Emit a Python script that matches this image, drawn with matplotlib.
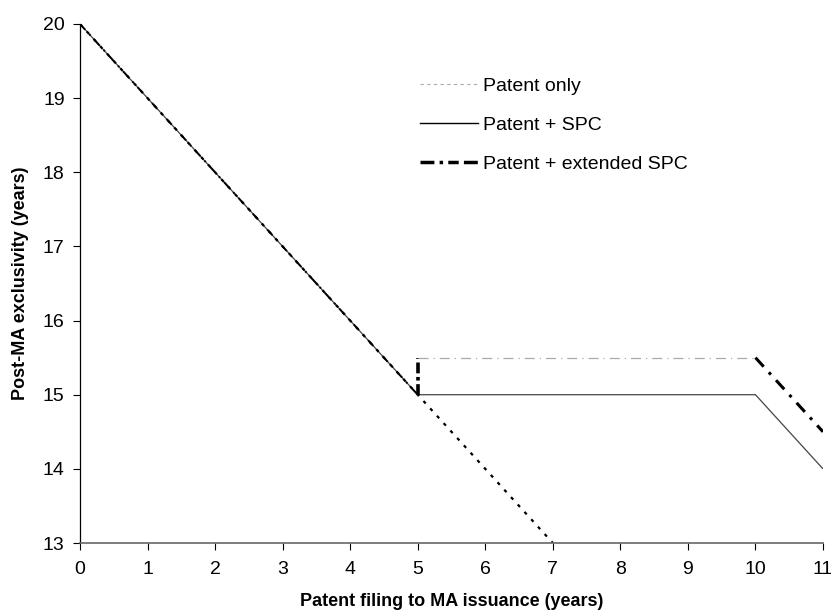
import matplotlib.pyplot as plt
from matplotlib.lines import Line2D

plt.rcParams['font.family'] = ['Liberation Sans', 'DejaVu Sans']

# series data
patent_x = [0, 5, 7]
patent_y = [20, 15, 13]

spc_x = [0, 5, 10, 11]
spc_y = [20, 15, 15, 14]

ext_x = [0, 5, 5, 10, 11]
ext_y = [20, 15, 15.5, 15.5, 14.5]

labels = ["Patent only", "Patent + SPC", "Patent + extended SPC"]

fig = plt.figure(figsize=(8.31, 6.16), dpi=100)
ax = fig.add_axes([80 / 831, 1 - 543 / 616, (823 - 80) / 831, (543 - 24) / 616])

ax.plot(spc_x, spc_y, color="#444444", lw=0.9, solid_capstyle="butt")
ax.plot(patent_x, patent_y, color="black", lw=1.6, linestyle=(0, (1.5, 3)))
# extended SPC: thick black, flat part drawn light as in the original
ax.plot(ext_x[:2], ext_y[:2], color="black", lw=1.4, linestyle=(0, (4, 3, 1, 3)))
ax.plot(ext_x[1:3], ext_y[1:3], color="black", lw=2.6, linestyle=(0, (3, 1, 1, 1)))
ax.plot(ext_x[2:4], ext_y[2:4], color="#aaaaaa", lw=0.9, linestyle=(0, (8, 4, 1, 4)))
ax.plot(ext_x[3:], ext_y[3:], color="black", lw=2.2, linestyle=(0, (4, 2.5, 1, 2.5)))

ax.set_xlim(0, 11)
ax.set_ylim(13, 20)
ax.set_xticks(range(0, 12))
ax.set_yticks(range(13, 21))
ax.spines['top'].set_visible(False)
ax.spines['right'].set_visible(False)
ax.spines['bottom'].set_color("#666666")
ax.spines['bottom'].set_linewidth(1.2)
ax.spines['left'].set_linewidth(0.9)
ax.tick_params(axis='both', direction='out', length=5, width=0.8, labelsize=14)
ax.tick_params(axis='x', pad=8)
ax.tick_params(axis='y', pad=6)

ax.set_xlabel("Patent filing to MA issuance (years)", fontsize=13, fontweight="bold", labelpad=11)
ax.set_ylabel("Post-MA exclusivity (years)", fontsize=13, fontweight="bold", labelpad=10)

handles = [
    Line2D([], [], color="#aaaaaa", lw=0.8, linestyle=(0, (3, 3))),
    Line2D([], [], color="black", lw=1.0),
    Line2D([], [], color="black", lw=2.5, linestyle=(0, (4, 1.5, 1, 1.5, 3, 1.5))),
]
ax.legend(handles, labels, frameon=False, fontsize=14, loc="upper left",
          bbox_to_anchor=(0.457, 0.897), borderaxespad=0, borderpad=0,
          handlelength=3.0, handletextpad=0.25, labelspacing=1.1)

fig.savefig("out.png", dpi=100)
